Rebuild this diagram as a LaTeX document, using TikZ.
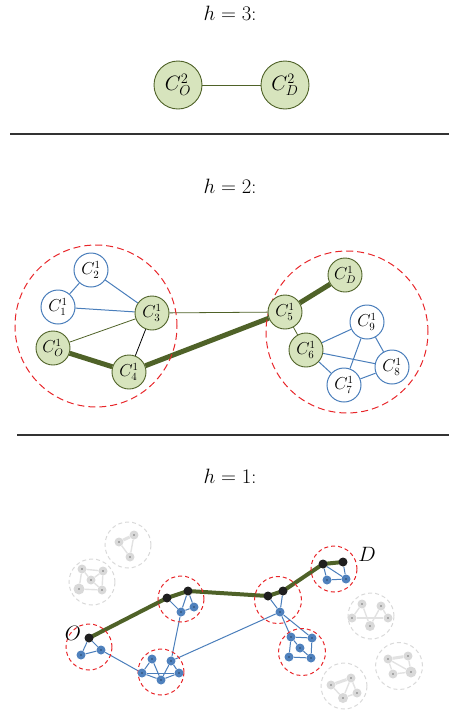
\documentclass[tikz,border=0pt]{standalone}
\definecolor{gfill}{HTML}{D7E4BD}
\definecolor{gdark}{HTML}{4F6228}
\definecolor{bl}{HTML}{4A7EBB}
\definecolor{bfill}{HTML}{4F81BD}
\definecolor{rd}{HTML}{E8262A}
\definecolor{gr}{HTML}{D9D9D9}
\definecolor{grl}{HTML}{E2E2E2}
\pgfdeclarelayer{bg}
\pgfsetlayers{bg,main}
\tikzset{
  big/.style={circle,draw=gdark,fill=gfill,line width=0.9pt,minimum size=48pt,inner sep=0pt,font=\fontsize{22}{24}\selectfont},
  gnode/.style={circle,draw=gdark,fill=gfill,line width=0.9pt,minimum size=34pt,inner sep=0pt,font=\fontsize{16}{18}\selectfont},
  wnode/.style={circle,draw=bl,fill=white,line width=1pt,minimum size=34pt,inner sep=0pt,font=\fontsize{16}{18}\selectfont},
  hlab/.style={font=\fontsize{20}{22}\selectfont,inner sep=0pt},
  ptlab/.style={font=\fontsize{21}{24}\selectfont,inner sep=0pt},
  rule/.style={line width=1.3pt,draw=black!80},
  gthin/.style={draw=gdark,line width=0.8pt},
  gthick/.style={draw=gdark,line width=5pt},
  bthin/.style={draw=bl,line width=1pt},
  redring/.style={draw=rd,line width=1pt,dash pattern=on 7pt off 4pt},
  redsmall/.style={draw=rd,line width=1pt,dash pattern=on 4pt off 3pt},
  greyring/.style={draw=gr,line width=1pt,dash pattern=on 4pt off 3pt},
  dotc/.style={path picture={\fill[black] (path picture bounding box.center) circle (0.55pt);}},
  bn/.style={circle,fill=bfill,minimum size=9pt,inner sep=0pt,dotc},
  kn/.style={circle,fill=black!88,minimum size=9pt,inner sep=0pt},
  gn/.style={circle,fill=gr,minimum size=9pt,inner sep=0pt,dotc},
  bpath/.style={draw=bl,line width=1pt},
  gpath/.style={draw=grl,line width=1.4pt},
  gpathk/.style={draw=grl,line width=3pt},
  route/.style={draw=gdark,line width=4pt,line join=round},
}
\begin{document}
\begin{tikzpicture}[x=1pt,y=-1pt]
\useasboundingbox (0,0) rectangle (449,713);
% ---------- h = 3
\node[hlab] (h3) at (230,13) {$h=3$:};
\node[big] (tO) at (178,85) {$C_O^2$};
\node[big] (tD) at (285,85) {$C_D^2$};
\draw[gthin] (tO) -- (tD);
\coordinate (r1a) at (10,134); \coordinate (r1b) at (449,134);
\draw[rule] (r1a) -- (r1b);
% ---------- h = 2
\node[hlab] (h2) at (230,186) {$h=2$:};
\node[redring,circle,minimum size=162pt,inner sep=0pt] (ringL) at (96,326) {};
\node[redring,circle,minimum size=162pt,inner sep=0pt] (ringR) at (347,332) {};
\node[wnode] (c2) at (91,270) {$C_2^1$};
\node[wnode] (c1) at (58,307) {$C_1^1$};
\node[gnode] (c3) at (152,313) {$C_3^1$};
\node[gnode] (c0) at (53,348) {$C_O^1$};
\node[gnode] (c4) at (129,372) {$C_4^1$};
\node[gnode] (cD) at (345,275) {$C_D^1$};
\node[gnode] (c5) at (285,312) {$C_5^1$};
\node[wnode] (c9) at (367,322) {$C_9^1$};
\node[gnode] (c6) at (306,350) {$C_6^1$};
\node[wnode] (c8) at (392,367) {$C_8^1$};
\node[wnode] (c7) at (344,385) {$C_7^1$};
\begin{pgfonlayer}{bg}
\draw[bthin] (c2) -- (c1);
\draw[bthin] (c2) -- (c3);
\draw[bthin] (c1) -- (c3);
\draw[gthin] (c0) -- (c3);
\draw[draw=black,line width=0.8pt] (c3) -- (c4);
\draw[gthin] (c3) -- (c5);
\draw[gthin] (c5) -- (c6);
\draw[gthick] (c0) -- (c4);
\draw[gthick] (c4) -- (c5);
\draw[gthick] (c5) -- (cD);
\draw[bthin] (c6) -- (c9);
\draw[bthin] (c6) -- (c8);
\draw[bthin] (c6) -- (c7);
\draw[bthin] (c9) -- (c7);
\draw[bthin] (c9) -- (c8);
\draw[bthin] (c7) -- (c8);
\end{pgfonlayer}
\coordinate (r2a) at (17,435); \coordinate (r2b) at (449,435);
\draw[rule] (r2a) -- (r2b);
% ---------- h = 1
\node[hlab] (h1) at (230,476) {$h=1$:};
% grey clusters
\node[greyring,circle,minimum size=46pt,inner sep=0pt] (gA) at (128,545) {};
\node[greyring,circle,minimum size=46pt,inner sep=0pt] (gB) at (92,582) {};
\node[greyring,circle,minimum size=46pt,inner sep=0pt] (gC) at (371,616) {};
\node[greyring,circle,minimum size=47pt,inner sep=0pt] (gD) at (399,666) {};
\node[greyring,circle,minimum size=46pt,inner sep=0pt] (gE) at (344,686) {};
\node[gn] (ga1) at (119,542) {};
\node[gn] (ga2) at (134,535) {};
\node[gn] (ga3) at (130,557) {};
\node[gn] (gb1) at (82,569) {};
\node[gn] (gb2) at (103,571) {};
\node[gn] (gb3) at (91,580) {};
\node[gn,minimum size=11pt] (gb4) at (79,589) {};
\node[gn] (gb5) at (102,590) {};
\node[gn] (gc1) at (362,604) {};
\node[gn] (gc2) at (381,606) {};
\node[gn] (gc3) at (352,618) {};
\node[gn] (gc4) at (388,618) {};
\node[gn,minimum size=10pt] (gc5) at (370,626) {};
\node[gn] (gd1) at (388,659) {};
\node[gn] (gd2) at (408,656) {};
\node[gn] (gd3) at (393,674) {};
\node[gn,minimum size=11pt] (gd4) at (411,672) {};
\node[gn] (ge1) at (331,685) {};
\node[gn] (ge2) at (351,678) {};
\node[gn] (ge3) at (357,693) {};
\node[gn,minimum size=10pt] (ge4) at (343,698) {};
% red clusters
\node[redsmall,circle,minimum size=46pt,inner sep=0pt] (rA) at (89,647) {};
\node[redsmall,circle,minimum size=46pt,inner sep=0pt] (rB) at (161,672) {};
\node[redsmall,circle,minimum size=46pt,inner sep=0pt] (rC) at (181,599) {};
\node[redsmall,circle,minimum size=47pt,inner sep=0pt] (rE) at (278,600) {};
\node[redsmall,circle,minimum size=47pt,inner sep=0pt] (rF) at (302,652) {};
\node[redsmall,circle,minimum size=46pt,inner sep=0pt] (rG) at (334,569) {};
\node[kn] (o0) at (89,638) {};
\node[bn] (a1) at (81,655) {};
\node[bn] (a2) at (101,650) {};
\node[bn] (b1) at (142,673) {};
\node[bn] (b2) at (152,659) {};
\node[bn] (b3) at (171,661) {};
\node[bn] (b4) at (179,673) {};
\node[bn] (b5) at (161,680) {};
\node[kn] (k1) at (167,598) {};
\node[kn] (k2) at (188,591) {};
\node[bn] (cc1) at (181,612) {};
\node[bn] (cc2) at (194,607) {};
\node[kn] (k3) at (268,596) {};
\node[kn] (k4) at (283,591) {};
\node[bn] (e1) at (280,612) {};
\node[bn] (f1) at (291,637) {};
\node[bn] (f2) at (312,638) {};
\node[bn] (f3) at (300,648) {};
\node[bn] (f4) at (289,657) {};
\node[bn] (f5) at (311,658) {};
\node[kn] (k5) at (323,564) {};
\node[kn] (k6) at (343,562) {};
\node[bn] (g1) at (327,580) {};
\node[bn] (g2) at (346,579) {};
\node[ptlab] (lO) at (73,633) {$O$};
\node[ptlab] (lD) at (367,554) {$D$};
\begin{pgfonlayer}{bg}
\draw[gpathk] (ga1) -- (ga2);
\draw[gpath] (ga1) -- (ga3);
\draw[gpath] (ga2) -- (ga3);
\draw[gpath] (gb1) -- (gb2);
\draw[gpath] (gb1) -- (gb4);
\draw[gpath] (gb4) -- (gb5);
\draw[gpath] (gb2) -- (gb5);
\draw[gpath] (gb2) -- (gb3);
\draw[gpath] (gb3) -- (gb5);
\draw[gpath] (gb1) -- (gb3);
\draw[gpath] (gc1) -- (gc3);
\draw[gpath] (gc1) -- (gc5);
\draw[gpath] (gc2) -- (gc5);
\draw[gpath] (gc2) -- (gc4);
\draw[gpath] (gc3) -- (gc4);
\draw[gpathk] (gd1) -- (gd2);
\draw[gpath] (gd1) -- (gd3);
\draw[gpath] (gd1) -- (gd4);
\draw[gpath] (gd2) -- (gd4);
\draw[gpath] (gd3) -- (gd4);
\draw[gpathk] (ge1) -- (ge2);
\draw[gpath] (ge1) -- (ge4);
\draw[gpath] (ge2) -- (ge4);
\draw[gpath] (ge2) -- (ge3);
\draw[gpath] (ge3) -- (ge4);
% blue
\draw[bpath] (o0) -- (a1);
\draw[bpath] (o0) -- (a2);
\draw[bpath] (a1) -- (a2);
\draw[bpath] (a2) -- (b1);
\draw[bpath] (b1) -- (b2);
\draw[bpath] (b2) -- (b5);
\draw[bpath] (b1) -- (b4);
\draw[bpath] (b1) -- (b5);
\draw[bpath] (b3) -- (b4);
\draw[bpath] (b3) -- (b5);
\draw[bpath] (b5) -- (b4);
\draw[bpath] (b3) -- (cc1);
\draw[bpath] (b3) -- (e1);
\draw[bpath] (k1) -- (cc1);
\draw[bpath] (k2) -- (cc1);
\draw[bpath] (k2) -- (cc2);
\draw[bpath] (cc1) -- (cc2);
\draw[bpath] (k3) -- (e1);
\draw[bpath] (k4) -- (e1);
\draw[bpath] (e1) -- (f1);
\draw[bpath] (e1) -- (f2);
\draw[bpath] (f1) -- (f2);
\draw[bpath] (f1) -- (f4);
\draw[bpath] (f1) -- (f3);
\draw[bpath] (f3) -- (f5);
\draw[bpath] (f2) -- (f5);
\draw[bpath] (f4) -- (f5);
\draw[bpath] (k5) -- (g1);
\draw[bpath] (k5) -- (g2);
\draw[bpath] (k6) -- (g2);
\draw[bpath] (g1) -- (g2);
% route
\draw[route] (o0.center) -- (k1.center) -- (k2.center) -- (k3.center) -- (k4.center) -- (k5.center) -- (k6.center);
\end{pgfonlayer}
\end{tikzpicture}
\end{document}
